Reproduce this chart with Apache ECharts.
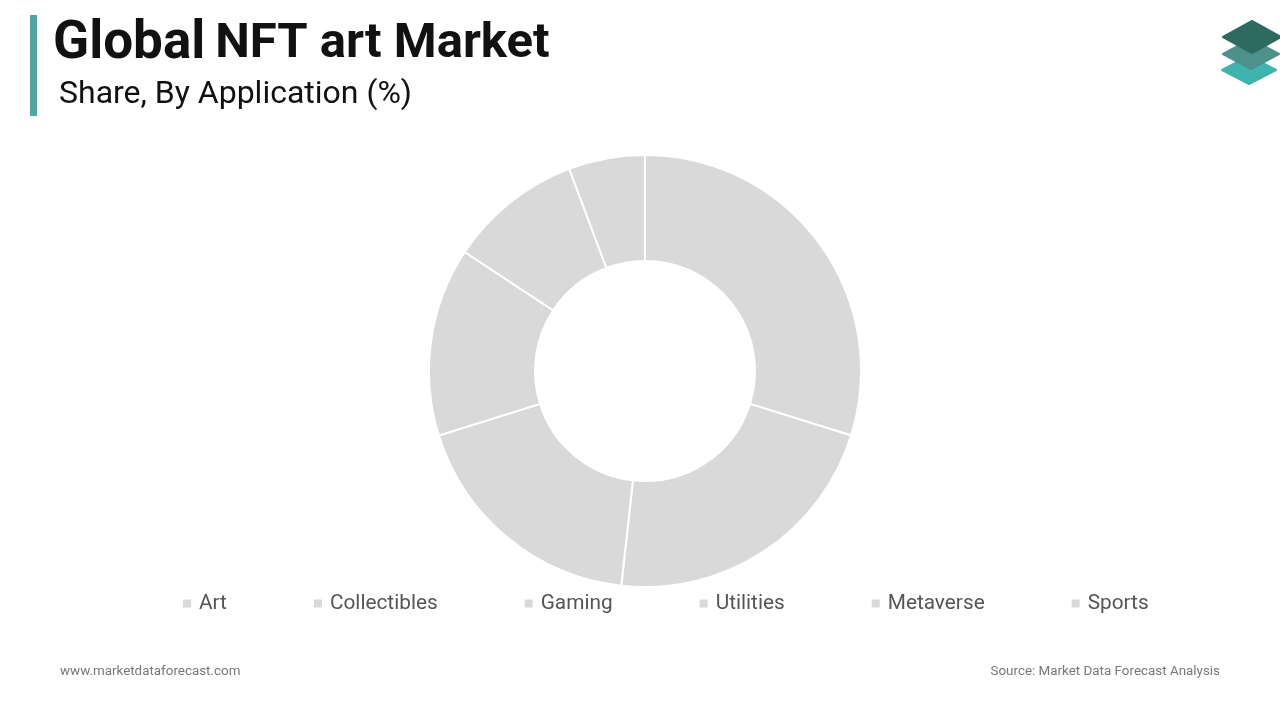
<!DOCTYPE html>
<html>
<head>
<meta charset="utf-8">
<script src="https://cdn.jsdelivr.net/npm/echarts@6/dist/echarts.min.js"></script>
<style>
html,body{margin:0;padding:0;background:#fff;}
#chart{width:1280px;height:720px;}
</style>
</head>
<body>
<div id="chart"></div>
<script>
const categories = ['Art', 'Collectibles', 'Gaming', 'Utilities', 'Metaverse', 'Sports'];
const shares = [29.8, 21.9, 18.4, 14.1, 10.0, 5.7];
const sliceColor = '#d9d9d9';

const chart = echarts.init(document.getElementById('chart'));

function diamond(cx, cy, hw, hh, color) {
  return {
    type: 'polygon',
    shape: { points: [[cx - hw, cy], [cx, cy - hh], [cx + hw, cy], [cx, cy + hh]], smooth: 0 },
    style: { fill: color, lineJoin: 'round', stroke: color, lineWidth: 2 }
  };
}

chart.setOption({
  backgroundColor: '#ffffff',
  animation: false,
  legend: {
    data: categories,
    left: 176,
    top: 588,
    icon: 'rect',
    itemWidth: 10,
    itemHeight: 10,
    itemGap: 85,
    textStyle: { fontFamily: 'Roboto', fontSize: 20.8, color: '#555555', padding: [0, 0, 0, 2] },
    selectedMode: false
  },
  graphic: [
    { type: 'rect', shape: { x: 30, y: 15, width: 7, height: 101 }, style: { fill: '#4aa9a4' } },
    { type: 'text', left: 53, top: 18, style: {
        text: '{a|Global}{s| }{b|NFT art Market}',
        rich: {
          a: { fontFamily: 'Roboto', fontWeight: 'bold', fontSize: 53, fill: '#111' },
          s: { fontFamily: 'Roboto', fontSize: 40, fill: '#111' },
          b: { fontFamily: 'Roboto', fontWeight: 'bold', fontSize: 49, fill: '#111' }
        },
        fill: '#111'
    } },
    { type: 'text', left: 59, top: 79, style: { text: 'Share, By Application (%)', fontFamily: 'Roboto', fontSize: 32, fill: '#111' } },
    { type: 'text', left: 60, top: 665, style: { text: 'www.marketdataforecast.com', fontFamily: 'Roboto', fontSize: 13.4, fill: '#777777' } },
    { type: 'text', right: 60, top: 665, style: { text: 'Source: Market Data Forecast Analysis', fontFamily: 'Roboto', fontSize: 13.4, fill: '#777777' } },
    diamond(1249, 70, 27, 14, '#3fb3ad'),
    diamond(1251, 54, 28, 15, '#4d918a'),
    diamond(1252, 37, 29, 16, '#2f6a61')
  ],
  series: [{
    type: 'pie',
    center: [645, 371],
    radius: [110, 216],
    startAngle: 90,
    clockwise: true,
    label: { show: false },
    labelLine: { show: false },
    emphasis: { disabled: true },
    itemStyle: { color: sliceColor, borderColor: '#ffffff', borderWidth: 2 },
    data: categories.map((c, i) => ({ name: c, value: shares[i] }))
  }]
});
</script>
</body>
</html>
